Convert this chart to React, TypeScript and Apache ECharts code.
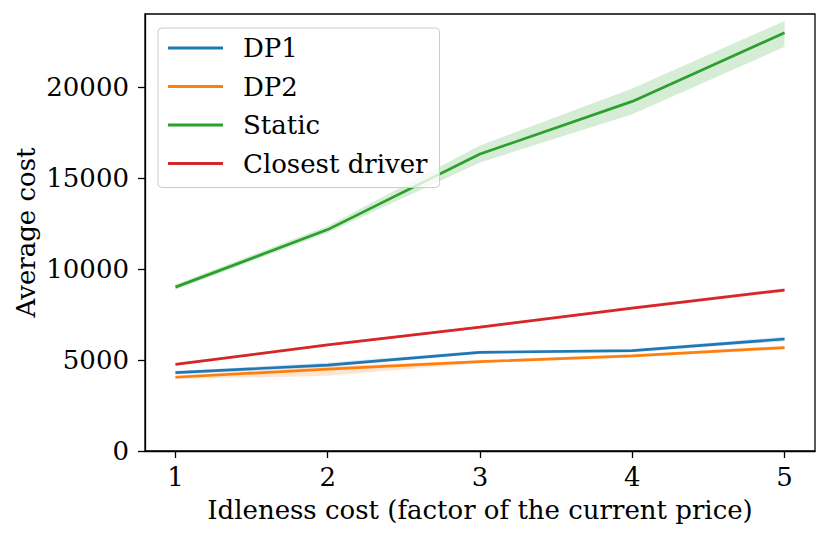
import React, { useEffect, useRef } from "react";
import * as echarts from "echarts";

const xValues = [1, 2, 3, 4, 5];
const xTicks = [1, 2, 3, 4, 5];
const yTicks = [0, 5000, 10000, 15000, 20000];

const dp1Mean = [4300, 4720, 5420, 5510, 6150];
const dp1Lower = [4200, 4620, 5340, 5430, 6020];
const dp1Upper = [4400, 4840, 5500, 5590, 6280];

const dp2Mean = [4050, 4500, 4910, 5220, 5680];
const dp2Lower = [3950, 4130, 4830, 5140, 5580];
const dp2Upper = [4150, 4650, 4990, 5300, 5780];

const staticMean = [9000, 12160, 16310, 19200, 22970];
const staticLower = [8860, 11980, 15850, 18490, 22200];
const staticUpper = [9140, 12360, 16780, 19910, 23620];

const closestMean = [4760, 5830, 6800, 7850, 8840];
const closestLower = [4690, 5760, 6730, 7770, 8740];
const closestUpper = [4830, 5900, 6870, 7930, 8940];

const names = ["DP1", "DP2", "Static", "Closest driver"];
const colors = ["#1f77b4", "#ff7f0e", "#2ca02c", "#d62728"];

const FONT = "DejaVu Serif";
const FS = 26;

function pairs(ys: number[]) {
  return xValues.map((x, i) => [x, ys[i]]);
}

function bandSeries(id: string, lower: number[], upper: number[], color: string) {
  const data = xValues.map((x, i) => [x, lower[i], upper[i]]);
  return {
    type: "custom",
    name: id,
    data,
    encode: { x: 0, y: [1, 2] },
    silent: true,
    z: 1,
    clip: true,
    renderItem: (params: any, api: any) => {
      if (params.dataIndex !== 0) return null;
      const top = xValues.map((x, i) => api.coord([x, upper[i]]));
      const bottom = xValues
        .map((x, i) => api.coord([x, lower[i]]))
        .reverse();
      return {
        type: "polygon",
        shape: { points: top.concat(bottom) },
        style: { fill: color, opacity: 0.2, stroke: "none" },
      };
    },
  };
}

function mainSeries(name: string, ys: number[], color: string) {
  return {
    type: "line",
    name,
    data: pairs(ys),
    symbol: "none",
    color,
    lineStyle: { color, width: 2.7 },
    z: 3,
  };
}

export default function App() {
  const ref = useRef<HTMLDivElement>(null);
  useEffect(() => {
    if (!ref.current) return;
    const chart = echarts.init(ref.current, null, { renderer: "svg" });
    const means = [dp1Mean, dp2Mean, staticMean, closestMean];
    const lows = [dp1Lower, dp2Lower, staticLower, closestLower];
    const highs = [dp1Upper, dp2Upper, staticUpper, closestUpper];
    const series: any[] = [];
    names.forEach((n, i) => {
      series.push(mainSeries(n, means[i], colors[i]));
      series.push(bandSeries("band" + i, lows[i], highs[i], colors[i]));
    });
    chart.setOption({
      animation: false,
      backgroundColor: "#ffffff",
      textStyle: { fontFamily: FONT },
      grid: {
        left: 145,
        top: 14,
        right: 16,
        bottom: 87,
        show: true,
        borderColor: "#000000",
        borderWidth: 1.3,
        backgroundColor: "transparent",
        containLabel: false,
        outerBoundsMode: "none",
      },
      legend: {
        data: names,
        orient: "vertical",
        left: 158,
        top: 28,
        padding: [7, 12, 11, 10],
        itemWidth: 55,
        itemHeight: 3,
        itemGap: 12.5,
        icon: "rect",
        backgroundColor: "rgba(255,255,255,0.8)",
        borderColor: "#cccccc",
        borderWidth: 1,
        borderRadius: 4,
        textStyle: {
          fontFamily: FONT,
          fontSize: FS,
          color: "#000000",
          lineHeight: 26,
          padding: [0, 0, 0, 15],
        },
        z: 10,
      },
      xAxis: {
        type: "value",
        min: 0.8,
        max: 5.2,
        name: "Idleness cost (factor of the current price)",
        nameLocation: "middle",
        nameGap: 46,
        nameMoveOverlap: false,
        nameTextStyle: { fontFamily: FONT, fontSize: FS, color: "#000000" },
        axisLine: { show: true, lineStyle: { color: "#000000", width: 1.3 } },
        axisTick: {
          show: true,
          inside: false,
          length: 7,
          lineStyle: { color: "#000000", width: 1.3 },
          customValues: xTicks,
        },
        axisLabel: {
          fontFamily: FONT,
          fontSize: FS,
          color: "#000000",
          margin: 13,
          customValues: xTicks,
          formatter: (v: number) => String(v),
        },
        splitLine: { show: false },
      },
      yAxis: {
        type: "value",
        min: 0,
        max: 24000,
        name: "Average cost",
        nameLocation: "middle",
        nameGap: 106,
        nameMoveOverlap: false,
        nameRotate: 90,
        nameTextStyle: { fontFamily: FONT, fontSize: FS, color: "#000000" },
        axisLine: { show: true, lineStyle: { color: "#000000", width: 1.3 } },
        axisTick: {
          show: true,
          inside: false,
          length: 7,
          lineStyle: { color: "#000000", width: 1.3 },
          customValues: yTicks,
        },
        axisLabel: {
          fontFamily: FONT,
          fontSize: FS,
          color: "#000000",
          margin: 16,
          customValues: yTicks,
          formatter: (v: number) => String(v),
        },
        splitLine: { show: false },
      },
      series,
    });
    return () => chart.dispose();
  }, []);
  return (
    <div
      ref={ref}
      style={{ position: "absolute", left: 0, top: 0, width: 831, height: 538 }}
    />
  );
}
